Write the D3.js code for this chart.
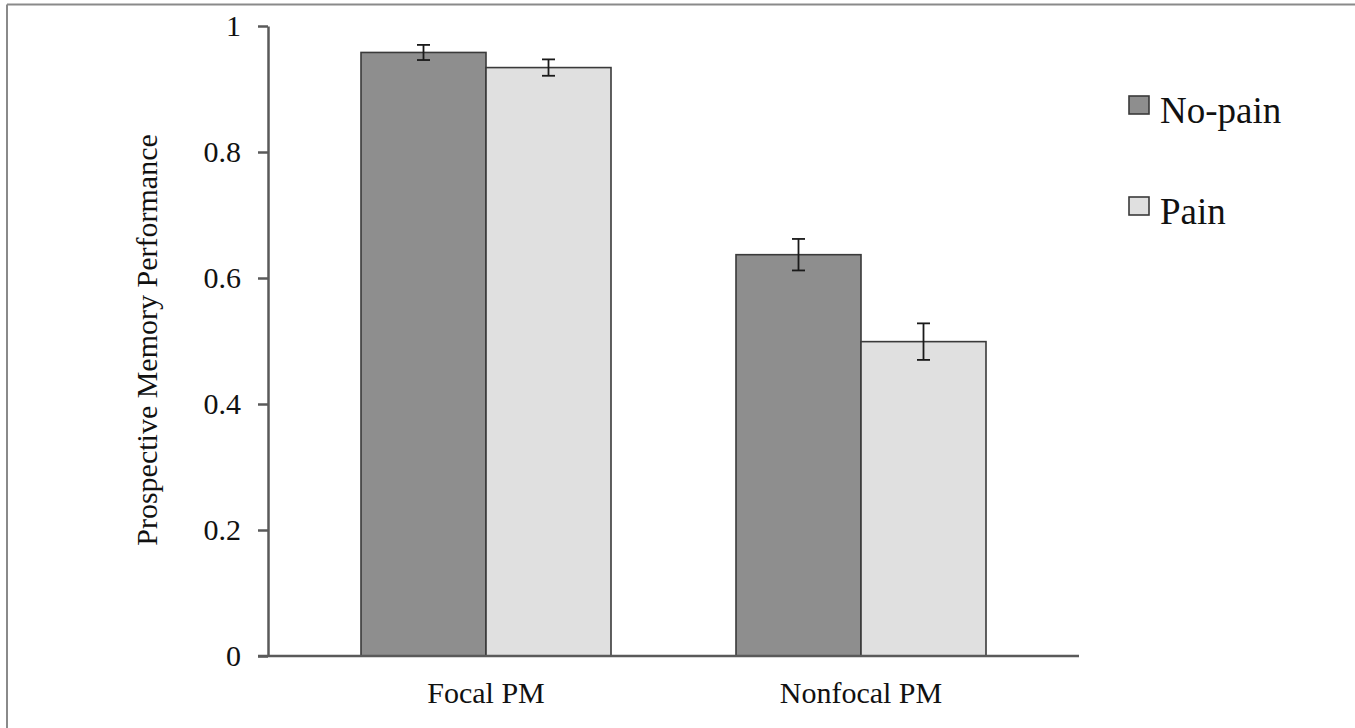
<!DOCTYPE html>
<html>
<head>
<meta charset="utf-8">
<script src="https://cdn.jsdelivr.net/npm/d3@7"></script>
<style>
  html, body { margin: 0; padding: 0; background: #fff; }
  svg { display: block; }
  text { font-family: "Liberation Serif", "Times New Roman", serif; fill: #111; }
</style>
</head>
<body>
<svg id="chart" width="1355" height="728"></svg>
<script>
// Prospective memory performance by task type and pain condition
const categories = ["Focal PM", "Nonfocal PM"];
const seriesNames = ["No-pain", "Pain"];
const noPain = [0.958, 0.637];
const pain = [0.934, 0.499];
const noPainErr = [0.012, 0.025];
const painErr = [0.013, 0.029];
const yTicks = [0, 0.2, 0.4, 0.6, 0.8, 1];
const yTickLabels = ["0", "0.2", "0.4", "0.6", "0.8", "1"];
const yTitle = "Prospective Memory Performance";

const colors = { "No-pain": "#8e8e8e", "Pain": "#e0e0e0" };

const rows = categories.map((c, i) => ({
  category: c,
  values: [
    { series: "No-pain", value: noPain[i], err: noPainErr[i] },
    { series: "Pain", value: pain[i], err: painErr[i] }
  ]
}));

const svg = d3.select("#chart");

// frame lines along the top and left of the figure
svg.append("line").attr("x1", 7).attr("y1", 4.5).attr("x2", 1355).attr("y2", 4.5)
  .attr("stroke", "#8a8a8a").attr("stroke-width", 2);
svg.append("line").attr("x1", 7).attr("y1", 4.5).attr("x2", 7).attr("y2", 728)
  .attr("stroke", "#8a8a8a").attr("stroke-width", 2);

const axisLeft = 268, axisRight = 1079;
const y = d3.scaleLinear().domain([0, 1]).range([656, 26]);
const x0 = d3.scaleBand().domain(categories).range([298.5, 1048.5])
  .paddingInner(1 / 3).paddingOuter(1 / 6);
const x1 = d3.scaleBand().domain(seriesNames).range([0, x0.bandwidth()]);

// y axis
const yAxis = d3.axisLeft(y).tickValues(yTicks)
  .tickFormat((d, i) => yTickLabels[i]).tickSize(10).tickSizeOuter(0).tickPadding(17);
const gy = svg.append("g").attr("transform", `translate(${axisLeft},0)`).call(yAxis);
gy.select(".domain").attr("stroke", "#5a5a5a").attr("stroke-width", 2.5);
gy.selectAll(".tick line").attr("stroke", "#5a5a5a").attr("stroke-width", 2.5);
gy.selectAll(".tick text").attr("font-size", 30)
  .attr("font-family", "Liberation Serif, serif").attr("fill", "#111");

// bars
const groups = svg.append("g").selectAll("g").data(rows).join("g")
  .attr("transform", d => `translate(${x0(d.category)},0)`);

groups.selectAll("rect").data(d => d.values).join("rect")
  .attr("x", d => x1(d.series))
  .attr("y", d => y(d.value))
  .attr("width", x1.bandwidth())
  .attr("height", d => y(0) - y(d.value))
  .attr("fill", d => colors[d.series])
  .attr("stroke", "#3a3a3a")
  .attr("stroke-width", 1.6);

// error bars
const eb = groups.selectAll("g.err").data(d => d.values).join("g").attr("class", "err")
  .attr("stroke", "#1a1a1a").attr("stroke-width", 1.8);
eb.append("line")
  .attr("x1", d => x1(d.series) + x1.bandwidth() / 2)
  .attr("x2", d => x1(d.series) + x1.bandwidth() / 2)
  .attr("y1", d => y(d.value + d.err))
  .attr("y2", d => y(d.value - d.err));
[1, -1].forEach(s => {
  eb.append("line")
    .attr("x1", d => x1(d.series) + x1.bandwidth() / 2 - 6.5)
    .attr("x2", d => x1(d.series) + x1.bandwidth() / 2 + 6.5)
    .attr("y1", d => y(d.value + s * d.err))
    .attr("y2", d => y(d.value + s * d.err));
});

// x axis baseline
svg.append("line").attr("x1", axisLeft - 10).attr("x2", axisRight)
  .attr("y1", y(0)).attr("y2", y(0))
  .attr("stroke", "#5a5a5a").attr("stroke-width", 2.5);

// category labels
svg.append("g").selectAll("text").data(categories).join("text")
  .attr("x", d => x0(d) + x0.bandwidth() / 2)
  .attr("y", 703)
  .attr("text-anchor", "middle")
  .attr("font-size", 30)
  .text(d => d);

// y title
svg.append("text")
  .attr("transform", `translate(157,340) rotate(-90)`)
  .attr("text-anchor", "middle")
  .attr("font-size", 30)
  .text(yTitle);

// legend
const legend = svg.append("g").selectAll("g").data(seriesNames).join("g")
  .attr("transform", (d, i) => `translate(1129,${96 + i * 101})`);
legend.append("rect").attr("width", 20).attr("height", 18)
  .attr("fill", d => colors[d]).attr("stroke", "#3a3a3a").attr("stroke-width", 1.6);
legend.append("text").attr("x", 31).attr("y", 27).attr("font-size", 37).text(d => d);
</script>
</body>
</html>
